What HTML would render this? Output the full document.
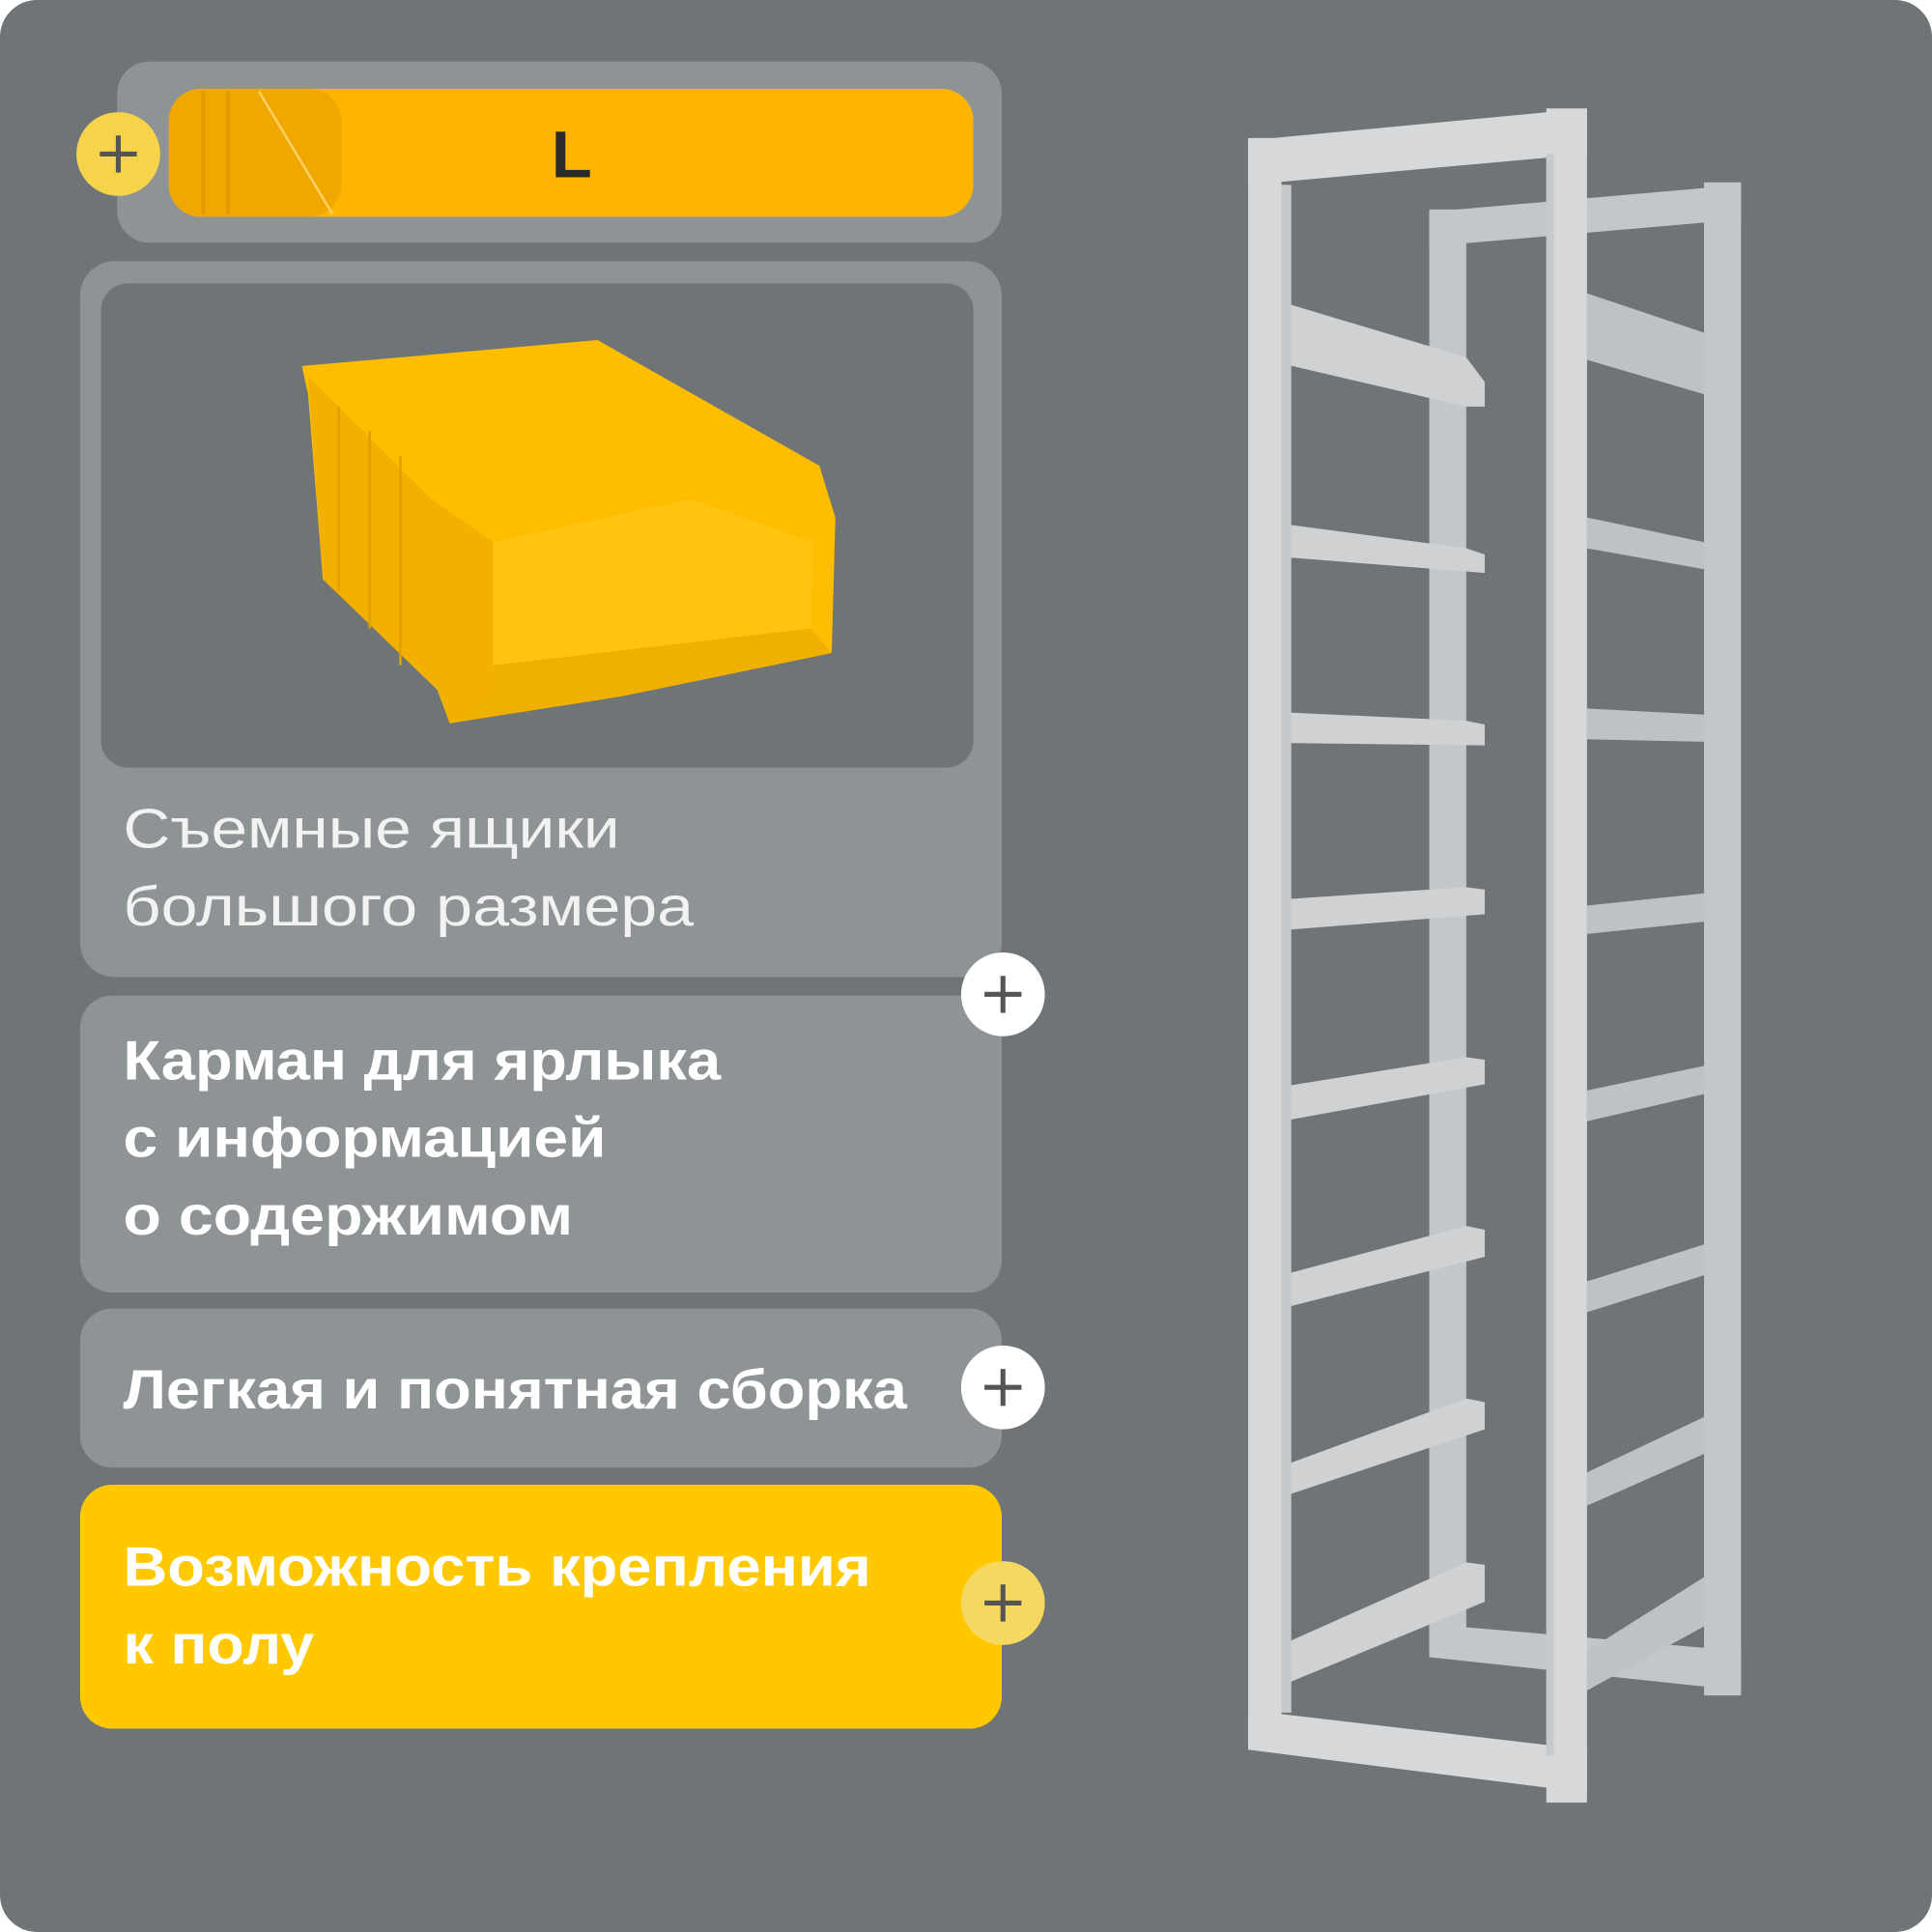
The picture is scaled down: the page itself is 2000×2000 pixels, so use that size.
<!DOCTYPE html>
<html><head><meta charset="utf-8"><style>
html,body{margin:0;padding:0;background:#fff}
svg{display:block}
text{font-family:"Liberation Sans",sans-serif}
</style></head><body>
<svg width="2000" height="2000" viewBox="0 0 1568 1568" xmlns="http://www.w3.org/2000/svg">
<rect x="0" y="0" width="1568" height="1568" rx="30" fill="#6f7477"/>
<!-- top panel -->
<rect x="95" y="50" width="718" height="147" rx="26" fill="#8e9395"/>
<rect x="137" y="72" width="653" height="104" rx="26" fill="#ffb400"/>
<rect x="137" y="72" width="140" height="104" rx="26" fill="#f0a800"/>
<line x1="165" y1="74" x2="165" y2="174" stroke="#e09a00" stroke-width="3"/>
<line x1="185" y1="74" x2="185" y2="174" stroke="#e09a00" stroke-width="3"/>
<line x1="210" y1="74" x2="270" y2="174" stroke="#ffd060" stroke-width="2"/>
<text x="464" y="144" font-size="54" font-weight="bold" text-anchor="middle" fill="#2a2a2a">L</text>
<circle cx="96" cy="125" r="34" fill="#f5d34a"/>
<path d="M96 110v30M81 125h30" stroke="#555" stroke-width="4"/>
<!-- panel 2 -->
<rect x="65" y="212" width="748" height="581" rx="28" fill="#8e9395"/>
<rect x="82" y="230" width="708" height="393" rx="22" fill="#6f7477"/>
<polygon points="245,297 485,276 665,378 678,420 675,530 505,565 365,587 355,560 262,470 250,320" fill="#ffbd00"/>
<polygon points="250,305 350,405 400,440 400,560 365,587 355,560 262,470" fill="#f2b000"/>
<polygon points="400,440 560,405 660,440 658,520 400,560" fill="#ffc410"/>
<polygon points="400,540 658,510 675,530 505,565 365,587 400,560" fill="#f0b000"/>
<g stroke="#e0a000" stroke-width="2"><line x1="275" y1="330" x2="275" y2="480"/><line x1="300" y1="350" x2="300" y2="510"/><line x1="325" y1="370" x2="325" y2="540"/></g>
<!-- text 2 -->
<g fill="#f2f2f2" font-size="45">
<text x="100" y="688" textLength="403" lengthAdjust="spacingAndGlyphs">Съемные ящики</text>
<text x="100" y="751" textLength="463" lengthAdjust="spacingAndGlyphs">большого размера</text>
</g>
<!-- panel 3 -->
<rect x="65" y="808" width="748" height="241" rx="26" fill="#8e9395"/>
<g fill="#ffffff" font-size="45" font-weight="bold">
<text x="100" y="876" textLength="485" lengthAdjust="spacingAndGlyphs">Карман для ярлыка</text>
<text x="100" y="939" textLength="392" lengthAdjust="spacingAndGlyphs">с информацией</text>
<text x="100" y="1002" textLength="365" lengthAdjust="spacingAndGlyphs">о содержимом</text>
</g>
<circle cx="814" cy="807" r="34" fill="#ffffff"/>
<path d="M814 792v30M799 807h30" stroke="#555" stroke-width="4"/>
<!-- panel 4 -->
<rect x="65" y="1062" width="748" height="129" rx="26" fill="#8e9395"/>
<text x="100" y="1143" fill="#fff" font-size="45" font-weight="bold" textLength="636" lengthAdjust="spacingAndGlyphs">Легкая и понятная сборка</text>
<circle cx="814" cy="1126" r="34" fill="#ffffff"/>
<path d="M814 1111v30M799 1126h30" stroke="#555" stroke-width="4"/>
<!-- panel 5 -->
<rect x="65" y="1205" width="748" height="198" rx="26" fill="#ffc800"/>
<g fill="#ffffff" font-size="45" font-weight="bold">
<text x="100" y="1287" textLength="607" lengthAdjust="spacingAndGlyphs">Возможность крепления</text>
<text x="100" y="1350" textLength="155" lengthAdjust="spacingAndGlyphs">к полу</text>
</g>
<circle cx="814" cy="1301" r="34" fill="#f5d860"/>
<path d="M814 1286v30M799 1301h30" stroke="#555" stroke-width="4"/>
<!-- rack back frame -->
<g fill="#c4c7c9">
<rect x="1160" y="170" width="30" height="1175"/>
<rect x="1383" y="148" width="30" height="1228"/>
<polygon points="1160,172 1413,150 1413,178 1160,200"/>
<polygon points="1160,1318 1413,1340 1413,1372 1160,1345"/>
</g>
<g fill="#bfc2c4">
<polygon points="1288,238 1383,270 1383,320 1288,292"/>
<polygon points="1288,420 1383,440 1383,462 1288,445"/>
<polygon points="1288,575 1383,580 1383,602 1288,600"/>
<polygon points="1288,735 1383,725 1383,748 1288,758"/>
<polygon points="1288,885 1383,865 1383,888 1288,910"/>
<polygon points="1288,1040 1383,1010 1383,1035 1288,1065"/>
<polygon points="1288,1195 1383,1150 1383,1180 1288,1222"/>
<polygon points="1288,1340 1383,1280 1383,1320 1288,1372"/>
</g>
<g fill="#cfd1d3">
<polygon points="1040,245 1190,290 1205,310 1205,330 1190,330 1040,295"/>
<polygon points="1040,425 1190,445 1205,450 1205,465 1040,452"/>
<polygon points="1040,578 1190,585 1205,588 1205,605 1040,603"/>
<polygon points="1040,730 1190,720 1205,722 1205,742 1040,755"/>
<polygon points="1040,882 1190,858 1205,860 1205,880 1040,910"/>
<polygon points="1040,1035 1190,995 1205,998 1205,1020 1040,1062"/>
<polygon points="1040,1190 1190,1135 1205,1138 1205,1160 1040,1215"/>
<polygon points="1040,1335 1190,1268 1205,1270 1205,1300 1040,1368"/>
</g>
<g fill="#d6d8da">
<rect x="1013" y="112" width="27" height="1308"/>
<rect x="1255" y="88" width="33" height="1375"/>
<polygon points="1013,114 1288,88 1288,125 1013,150"/>
<polygon points="1013,1388 1288,1420 1288,1455 1013,1420"/>
</g>
<rect x="1040" y="150" width="8" height="1240" fill="#c6c9cb"/>
<rect x="1255" y="125" width="6" height="1300" fill="#c6c9cb"/>
</svg>
</body></html>
